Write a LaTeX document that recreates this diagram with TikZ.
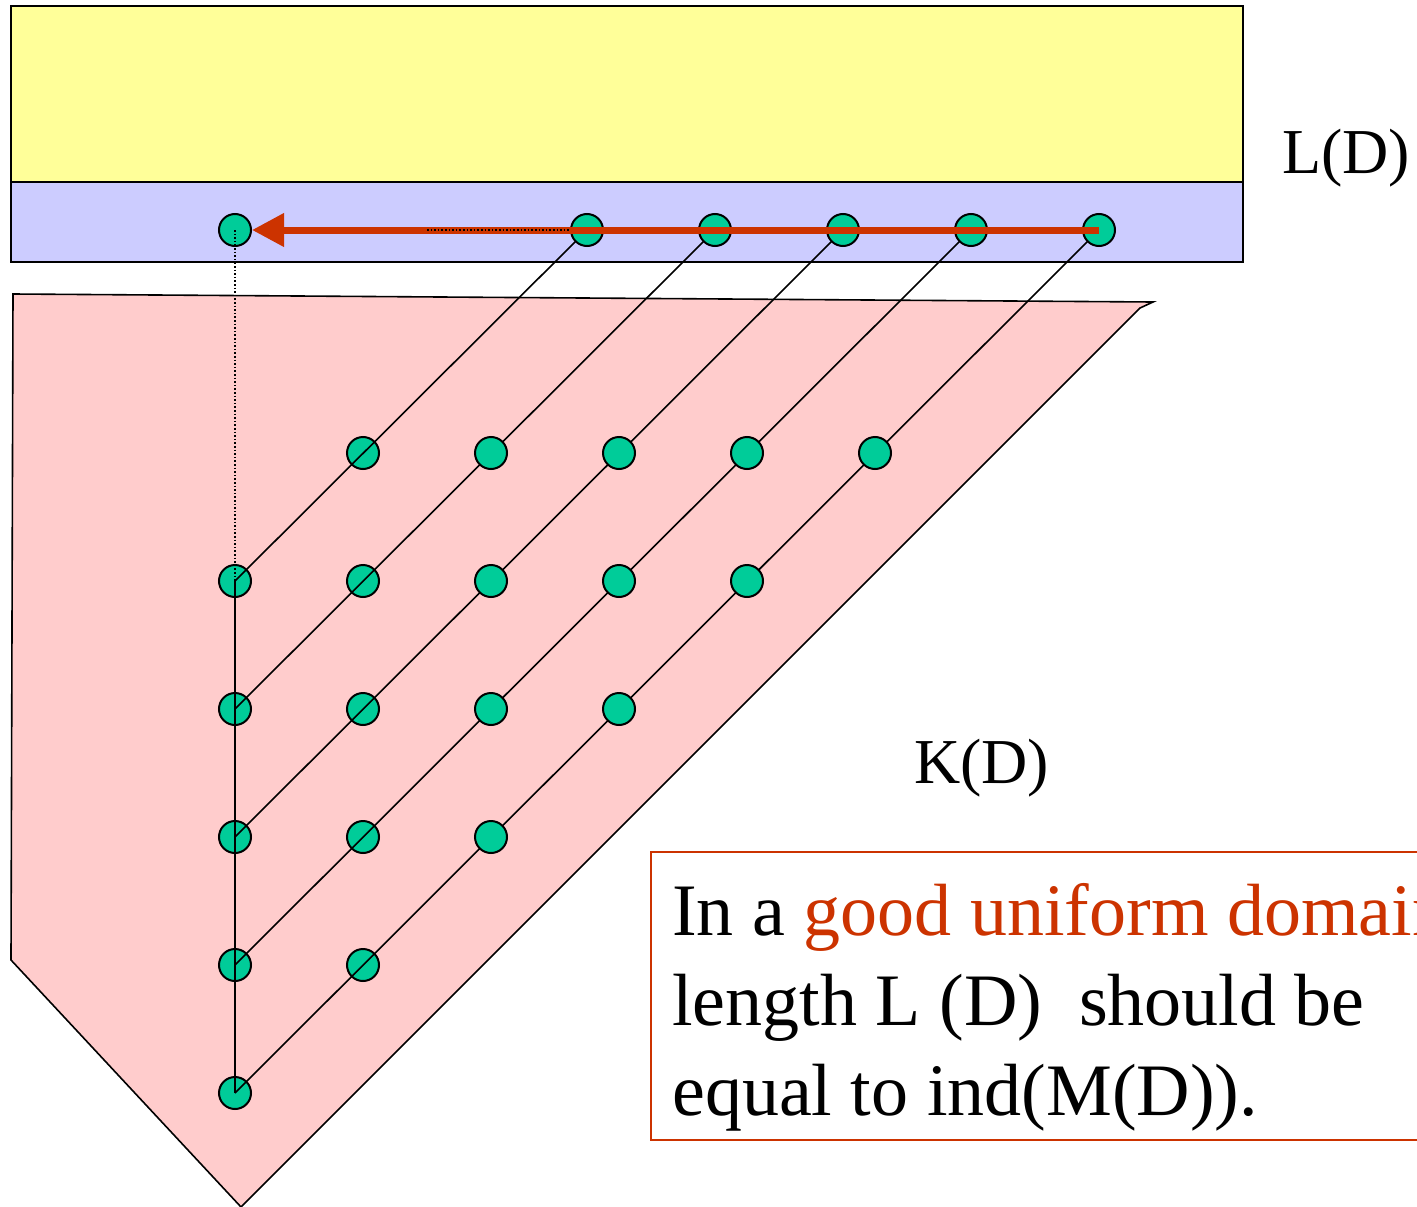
\documentclass[tikz,border=0pt]{standalone}
\usepackage{fontspec}
\setmainfont{Liberation Serif}
\usetikzlibrary{arrows.meta}
\definecolor{lyellow}{HTML}{FFFF99}
\definecolor{lblue}{HTML}{CCCCFF}
\definecolor{lpink}{HTML}{FFCCCC}
\definecolor{dotgreen}{HTML}{00CC99}
\definecolor{rust}{HTML}{CC3300}
\tikzset{
  dot/.style={circle,draw=black,line width=2pt,fill=dotgreen,minimum size=32pt,inner sep=0pt},
  edge/.style={draw=black,line width=1.6pt},
  dotline/.style={draw=black,line width=1.6pt,dotted},
  lbl/.style={inner sep=0pt,font=\fontsize{64}{76}\selectfont},
  boxtext/.style={inner sep=0pt,anchor=base west,font=\fontsize{74}{90}\selectfont},
}
\begin{document}
\begin{tikzpicture}[x=1pt,y=-1pt]
\useasboundingbox (0,0) rectangle (1417,1207);
\clip (0,0) rectangle (1417,1207);
% bands
\draw[line width=2pt,fill=lyellow] (11,6) rectangle (1243,182);
\draw[line width=2pt,fill=lblue] (11,182) rectangle (1243,262);
% pink domain
\draw[line width=1.6pt,fill=lpink] (13,294) -- (1153,302) -- (1140,308) -- (241,1207) -- (11,960) -- cycle;
% grid dots, columns 0 and 1 (lines drawn over them)
\foreach \r/\y in {1/453,2/581,3/709,4/837,5/965,6/1093}{
  \foreach \c/\x in {0/235,1/363}{
    \pgfmathtruncatemacro{\ok}{(\r==1 && \c>0) || (\r>1 && \c+\r<=6) ? 1 : 0}
    \ifnum\ok=1 \node[dot] (g\r\c) at (\x,\y) {};\fi
  }
}
% top dot positions
\path (235,230) coordinate (t0c) (587,230) coordinate (t1c) (715,230) coordinate (t2c)
      (843,230) coordinate (t3c) (971,230) coordinate (t4c) (1099,230) coordinate (t5c);
% diagonals
\draw[edge] (t1c) -- (g20.center);
\draw[edge] (t2c) -- (g30.center);
\draw[edge] (t3c) -- (g40.center);
\draw[edge] (t4c) -- (g50.center);
\draw[edge] (t5c) -- (g60.center);
\draw[edge] (g20.center) -- (g60.center);
% grid dots, columns 2..5 (drawn over the lines)
\foreach \r/\y in {1/453,2/581,3/709,4/837,5/965,6/1093}{
  \foreach \c/\x in {2/491,3/619,4/747,5/875}{
    \pgfmathtruncatemacro{\ok}{(\r==1) || (\r>1 && \c+\r<=6) ? 1 : 0}
    \ifnum\ok=1 \node[dot] (g\r\c) at (\x,\y) {};\fi
  }
}
% top row dots
\node[dot] (t0) at (t0c) {};
\node[dot] (t1) at (t1c) {};
\node[dot] (t2) at (t2c) {};
\node[dot] (t3) at (t3c) {};
\node[dot] (t4) at (t4c) {};
\node[dot] (t5) at (t5c) {};
% red arrow
\draw[rust,line width=7pt,-{Triangle[length=32pt,width=32pt]}] (t5.center) -- (t0.east);
% dotted lines
\coordinate (dstart) at (427,230);
\draw[dotline] (dstart) -- (t1.west);
\draw[dotline] (t0.center) -- (g20.center);
% labels
\node[lbl,anchor=base west] (ld) at (1282,173) {L(D)};
\node[lbl,anchor=base west] (kd) at (914,783) {K(D)};
% text box
\draw[rust,line width=2pt] (651,852) rectangle (1440,1140);
\node[boxtext] (l1) at (672,935) {In a \textcolor{rust}{good uniform domain}};
\node[boxtext] (l2) at (672,1025) {length L (D)\ \ should be};
\node[boxtext] (l3) at (672,1115) {equal to ind(M(D)).};
\end{tikzpicture}
\end{document}
